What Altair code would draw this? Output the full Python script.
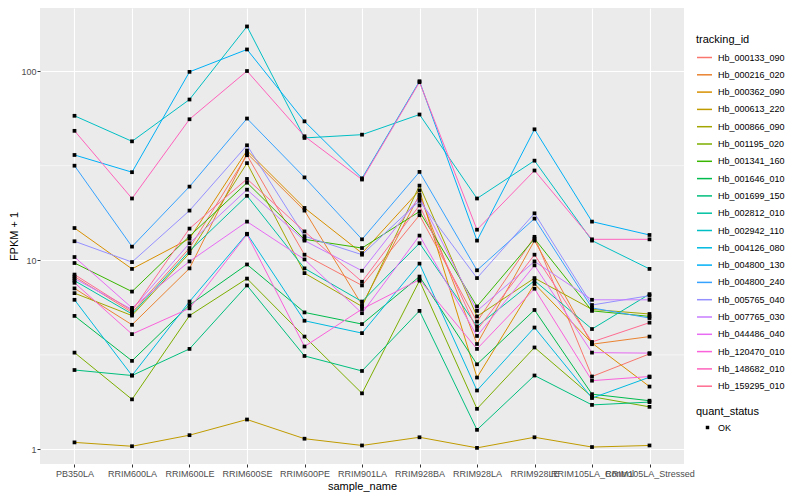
import altair as alt
import pandas as pd

samples = ["PB350LA", "RRIM600LA", "RRIM600LE", "RRIM600SE", "RRIM600PE", "RRIM901LA",
           "RRIM928BA", "RRIM928LA", "RRIM928LE", "RRIM105LA_Control", "RRIM105LA_Stressed"]

tracking_ids = ["Hb_000133_090", "Hb_000216_020", "Hb_000362_090", "Hb_000613_220",
                "Hb_000866_090", "Hb_001195_020", "Hb_001341_160", "Hb_001646_010",
                "Hb_001699_150", "Hb_002812_010", "Hb_002942_110", "Hb_004126_080",
                "Hb_004800_130", "Hb_004800_240", "Hb_005765_040", "Hb_007765_030",
                "Hb_044486_040", "Hb_120470_010", "Hb_148682_010", "Hb_159295_010"]

colors = ["#F8766D", "#EA8331", "#D89000", "#C09B00", "#A3A500", "#7CAE00", "#39B600",
          "#00BB4E", "#00BF7D", "#00C1A3", "#00BFC4", "#00BAE0", "#00B0F6", "#35A2FF",
          "#9590FF", "#C77CFF", "#E76BF3", "#FA62DB", "#FF62BC", "#FF6C91"]

s01 = [8.2, 5.3, 11.6, 35.9, 10.7, 7.36, 17.3, 4.74, 13.3, 2.43, 3.2]
s02 = [7.1, 4.56, 9.06, 36.7, 18.3, 5.8, 22.2, 3.61, 12.7, 3.6, 3.95]
s03 = [14.8, 9.0, 13.0, 38.0, 18.9, 10.9, 23.4, 2.4, 7.5, 3.65, 2.15]
s04 = [1.09, 1.04, 1.19, 1.44, 1.14, 1.05, 1.16, 1.02, 1.16, 1.03, 1.05]
s05 = [6.7, 5.1, 10.9, 32.6, 8.55, 5.7, 24.8, 5.05, 8.05, 5.5, 5.2]
s06 = [3.25, 1.84, 5.1, 8.0, 3.95, 1.98, 7.8, 1.64, 3.46, 1.9, 1.68]
s07 = [9.67, 6.83, 13.4, 25.7, 12.9, 11.6, 18.1, 5.7, 13.0, 5.4, 5.05]
s08 = [5.08, 2.94, 5.8, 9.5, 5.3, 4.6, 8.2, 2.82, 5.46, 1.96, 1.81]
s09 = [2.63, 2.46, 3.4, 7.36, 3.12, 2.6, 5.4, 1.27, 2.46, 1.72, 1.78]
s10 = [7.8, 5.2, 11.2, 21.9, 9.06, 6.05, 12.3, 4.47, 7.8, 4.33, 6.62]
s11 = [58, 42.5, 70.7, 172, 44.3, 46.1, 58.9, 21.2, 33.6, 12.7, 9.0]
s12 = [6.18, 2.46, 6.05, 13.8, 4.79, 4.12, 9.6, 2.05, 4.41, 1.87, 2.41]
s13 = [36, 29.2, 99, 130, 54.2, 27.1, 88.3, 12.7, 49.2, 16.0, 13.6]
s14 = [31.6, 11.8, 24.5, 56.1, 27.4, 12.9, 29.3, 8.85, 16.6, 5.6, 4.95]
s15 = [12.6, 9.78, 18.3, 40.5, 13.4, 10.7, 20.6, 8.05, 17.7, 5.8, 6.5]
s16 = [8.0, 5.5, 12.3, 23.6, 12.7, 8.8, 21.5, 5.4, 9.86, 6.18, 6.18]
s17 = [10.4, 5.6, 9.86, 16.0, 10.1, 5.25, 13.5, 3.98, 9.4, 3.25, 3.23]
s18 = [7.6, 4.07, 5.57, 13.7, 3.5, 5.52, 7.9, 3.4, 7.07, 2.31, 2.43]
s19 = [48.3, 21.2, 55.6, 100, 45.2, 26.7, 87.3, 14.5, 29.8, 12.9, 12.9]
s20 = [8.4, 5.4, 14.7, 26.9, 14.2, 7.7, 19.5, 4.28, 10.7, 3.7, 4.68]

series = [s01, s02, s03, s04, s05, s06, s07, s08, s09, s10,
          s11, s12, s13, s14, s15, s16, s17, s18, s19, s20]

y_major = [1, 10, 100]
y_minor = [3.1623, 31.623]

rows = []
for tid, vals in zip(tracking_ids, series):
    for s, v in zip(samples, vals):
        rows.append({"sample_name": s, "tracking_id": tid, "fpkm1": v, "quant_status": "OK"})
df = pd.DataFrame(rows)
minor_df = pd.DataFrame({"fpkm1": y_minor})

FONT = "Liberation Sans"

yscale = alt.Scale(type="log", domain=[0.838, 215.3], nice=False)
xscale = alt.Scale(type="point", padding=0.6, domain=samples)

yaxis = alt.Axis(values=y_major, format="d", labelPadding=1, titlePadding=1,
                 gridColor="white", gridWidth=1.1)
xaxis = alt.Axis(labelAngle=0, labelOverlap=False, labelPadding=2, titlePadding=2,
                 gridColor="white", gridWidth=1.1, grid=True)

minor = alt.Chart(minor_df).mark_rule(color="white", strokeWidth=0.55).encode(
    y=alt.Y("fpkm1:Q", scale=yscale, axis=yaxis, title="FPKM + 1")
)

lines = alt.Chart(df).mark_line(strokeWidth=1).encode(
    x=alt.X("sample_name:N", sort=samples, scale=xscale, axis=xaxis, title="sample_name"),
    y=alt.Y("fpkm1:Q", scale=yscale, axis=yaxis, title="FPKM + 1"),
    color=alt.Color("tracking_id:N", scale=alt.Scale(domain=tracking_ids, range=colors),
                    legend=alt.Legend(orient="none", legendX=656, legendY=26,
                                      symbolType="stroke", symbolSize=225,
                                      symbolStrokeWidth=1.5, rowPadding=3.3,
                                      titlePadding=4, labelOffset=5, padding=0,
                                      title="tracking_id")),
)

points = alt.Chart(df).mark_point(filled=True, color="black", size=14, opacity=1).encode(
    x=alt.X("sample_name:N", sort=samples, scale=xscale, axis=xaxis, title="sample_name"),
    y=alt.Y("fpkm1:Q", scale=yscale, axis=yaxis, title="FPKM + 1"),
    shape=alt.Shape("quant_status:N", scale=alt.Scale(domain=["OK"], range=["square"]),
                    legend=alt.Legend(orient="none", legendX=656, legendY=398,
                                      symbolSize=12, symbolOffset=7, labelOffset=6,
                                      symbolFillColor="black", symbolStrokeColor="black",
                                      titlePadding=6, padding=0, title="quant_status")),
)

chart = alt.layer(minor, lines, points).properties(
    width=644, height=456,
    autosize=alt.AutoSizeParams(type="none"),
    padding={"left": 32, "top": 0, "right": 108, "bottom": 28},
    background="white",
).configure_view(
    fill="#EBEBEB", stroke=None
).configure_axis(
    domain=False, tickColor="#333333", tickSize=3, tickWidth=1,
    labelColor="#4D4D4D", labelFontSize=9, labelFont=FONT,
    titleFontSize=11, titleFont=FONT, titleColor="black", titleFontWeight="normal",
).configure_legend(
    titleFontSize=11, titleFont=FONT, titleFontWeight="normal", titleColor="black",
    labelFontSize=9, labelFont=FONT, labelColor="black",
)

chart.save("out.html", embed_options={"renderer": "svg", "actions": False})
